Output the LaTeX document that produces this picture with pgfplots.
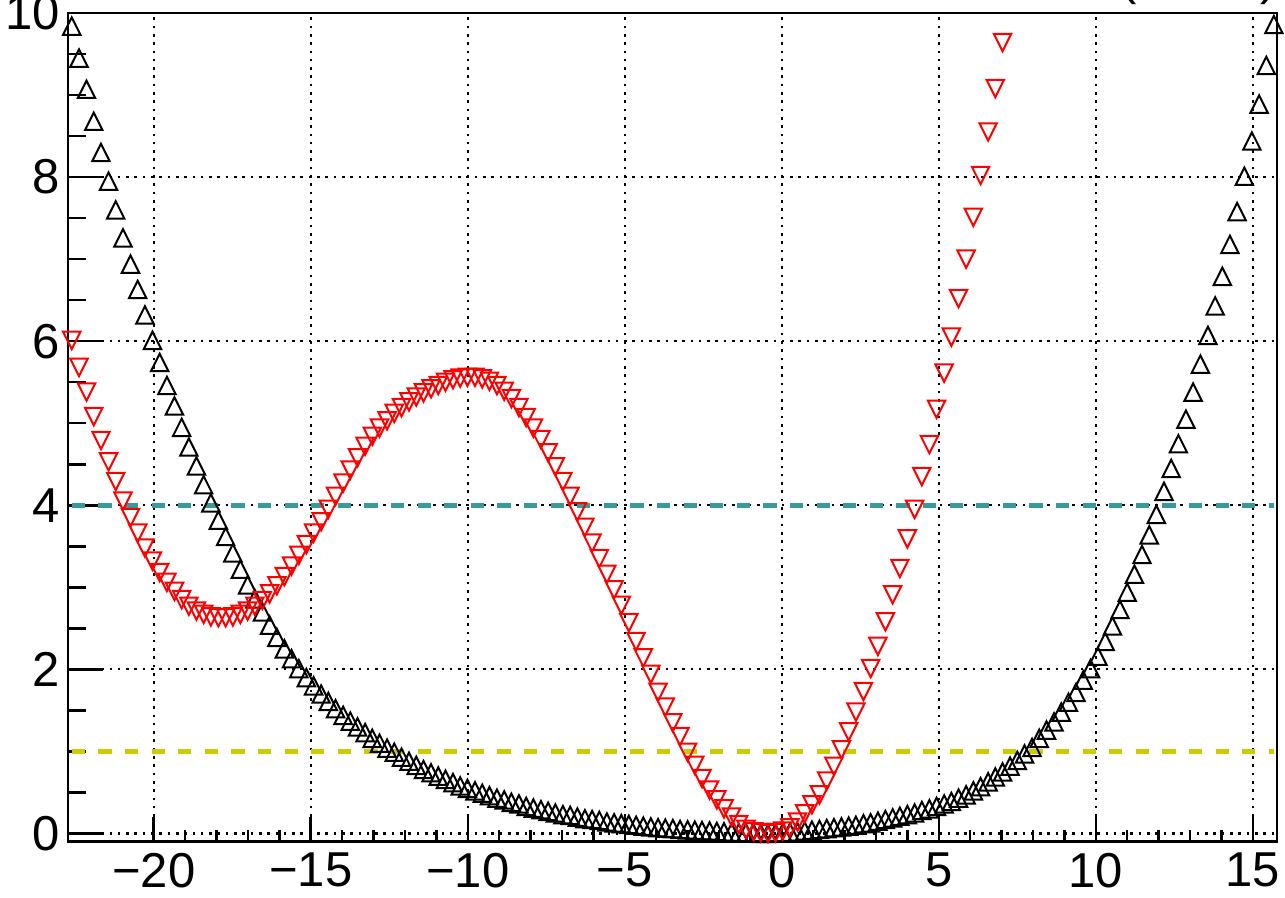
\documentclass[border=0pt]{standalone}
\usepackage{fontspec}
\setmainfont{Liberation Sans}
\usepackage{pgfplots}
\usepackage{pgfplotstable}
\pgfplotsset{compat=1.18}

\definecolor{rootteal}{RGB}{58,154,154}
\definecolor{rootyellow}{RGB}{204,204,0}

% ROOT-like open triangles (bounding box centred)
\pgfdeclareplotmark{rootup}{%
  \pgfpathmoveto{\pgfqpoint{-\pgfplotmarksize}{-\pgfplotmarksize}}%
  \pgfpathlineto{\pgfqpoint{\pgfplotmarksize}{-\pgfplotmarksize}}%
  \pgfpathlineto{\pgfqpoint{0pt}{\pgfplotmarksize}}%
  \pgfpathclose\pgfusepathqstroke}
\pgfdeclareplotmark{rootdown}{%
  \pgfpathmoveto{\pgfqpoint{-\pgfplotmarksize}{\pgfplotmarksize}}%
  \pgfpathlineto{\pgfqpoint{\pgfplotmarksize}{\pgfplotmarksize}}%
  \pgfpathlineto{\pgfqpoint{0pt}{-\pgfplotmarksize}}%
  \pgfpathclose\pgfusepathqstroke}

\pgfplotstableread{
x y
-22.61 9.84
-22.38 9.45
-22.14 9.07
-21.91 8.68
-21.68 8.30
-21.44 7.95
-21.21 7.60
-20.98 7.26
-20.74 6.94
-20.51 6.63
-20.28 6.32
-20.04 6.01
-19.81 5.74
-19.58 5.46
-19.34 5.21
-19.11 4.95
-18.88 4.71
-18.64 4.48
-18.41 4.25
-18.18 4.03
-17.94 3.82
-17.71 3.62
-17.48 3.42
-17.24 3.22
-17.01 3.03
-16.78 2.86
-16.54 2.70
-16.31 2.54
-16.08 2.39
-15.84 2.25
-15.61 2.13
-15.38 2.01
-15.14 1.90
-14.91 1.80
-14.67 1.70
-14.44 1.61
-14.21 1.52
-13.97 1.44
-13.74 1.37
-13.51 1.30
-13.27 1.23
-13.04 1.16
-12.81 1.10
-12.57 1.04
-12.34 0.99
-12.11 0.93
-11.87 0.88
-11.64 0.83
-11.41 0.78
-11.17 0.74
-10.94 0.70
-10.71 0.66
-10.47 0.62
-10.24 0.58
-10.01 0.55
-9.77 0.52
-9.54 0.49
-9.31 0.46
-9.07 0.43
-8.84 0.41
-8.61 0.38
-8.37 0.36
-8.14 0.33
-7.91 0.31
-7.67 0.29
-7.44 0.27
-7.21 0.25
-6.97 0.23
-6.74 0.22
-6.51 0.20
-6.27 0.18
-6.04 0.17
-5.81 0.16
-5.57 0.14
-5.34 0.13
-5.11 0.12
-4.87 0.11
-4.64 0.10
-4.41 0.09
-4.17 0.08
-3.94 0.07
-3.71 0.065
-3.47 0.06
-3.24 0.05
-3.00 0.045
-2.77 0.04
-2.54 0.035
-2.30 0.03
-2.07 0.025
-1.84 0.02
-1.60 0.015
-1.37 0.01
-1.14 0.01
-0.90 0.005
-0.67 0.0
-0.44 0.0
-0.20 0.005
0.03 0.01
0.26 0.015
0.50 0.02
0.73 0.03
0.96 0.04
1.20 0.05
1.43 0.06
1.66 0.07
1.90 0.08
2.13 0.09
2.36 0.10
2.60 0.12
2.83 0.13
3.06 0.15
3.30 0.17
3.53 0.19
3.76 0.21
4.00 0.23
4.23 0.25
4.46 0.28
4.70 0.30
4.93 0.33
5.17 0.36
5.40 0.39
5.63 0.43
5.87 0.47
6.10 0.52
6.33 0.57
6.57 0.63
6.80 0.69
7.03 0.75
7.27 0.82
7.50 0.89
7.73 0.97
7.97 1.05
8.20 1.16
8.43 1.26
8.67 1.36
8.90 1.48
9.13 1.60
9.37 1.72
9.60 1.87
9.83 2.01
10.07 2.16
10.30 2.34
10.53 2.53
10.77 2.73
11.00 2.94
11.23 3.16
11.47 3.40
11.70 3.64
11.93 3.89
12.17 4.17
12.40 4.45
12.63 4.75
12.87 5.05
13.10 5.38
13.33 5.72
13.57 6.07
13.80 6.43
14.03 6.79
14.27 7.18
14.50 7.58
14.73 8.01
14.97 8.44
15.20 8.89
15.43 9.36
15.67 9.86
}\blackscan

\pgfplotstableread{
x y
-22.61 6.01
-22.38 5.68
-22.14 5.38
-21.91 5.08
-21.68 4.79
-21.44 4.53
-21.21 4.29
-20.98 4.05
-20.74 3.85
-20.51 3.66
-20.28 3.48
-20.04 3.32
-19.81 3.18
-19.58 3.06
-19.34 2.95
-19.11 2.85
-18.88 2.77
-18.64 2.71
-18.41 2.67
-18.18 2.64
-17.94 2.63
-17.71 2.63
-17.48 2.64
-17.24 2.67
-17.01 2.71
-16.78 2.77
-16.54 2.84
-16.31 2.92
-16.08 3.02
-15.84 3.13
-15.61 3.26
-15.38 3.39
-15.14 3.52
-14.91 3.66
-14.67 3.80
-14.44 3.95
-14.21 4.11
-13.97 4.27
-13.74 4.43
-13.51 4.58
-13.27 4.72
-13.04 4.84
-12.81 4.94
-12.57 5.03
-12.34 5.12
-12.11 5.19
-11.87 5.26
-11.64 5.32
-11.41 5.37
-11.17 5.42
-10.94 5.46
-10.71 5.50
-10.47 5.53
-10.24 5.55
-10.01 5.56
-9.77 5.56
-9.54 5.54
-9.31 5.51
-9.07 5.46
-8.84 5.39
-8.61 5.30
-8.37 5.19
-8.14 5.07
-7.91 4.94
-7.67 4.80
-7.44 4.64
-7.21 4.47
-6.97 4.29
-6.74 4.11
-6.51 3.92
-6.27 3.73
-6.04 3.54
-5.81 3.35
-5.57 3.16
-5.34 2.97
-5.11 2.78
-4.87 2.57
-4.64 2.34
-4.41 2.14
-4.17 1.94
-3.94 1.72
-3.71 1.54
-3.47 1.35
-3.24 1.18
-3.00 0.99
-2.77 0.83
-2.54 0.67
-2.30 0.53
-2.07 0.41
-1.84 0.30
-1.60 0.20
-1.37 0.11
-1.14 0.05
-0.90 0.02
-0.67 0.01
-0.44 0.00
-0.20 0.01
0.03 0.03
0.26 0.07
0.50 0.14
0.73 0.24
0.96 0.35
1.20 0.47
1.43 0.64
1.66 0.82
1.90 1.02
2.13 1.24
2.36 1.48
2.60 1.73
2.83 2.01
3.06 2.28
3.30 2.58
3.53 2.91
3.76 3.23
4.00 3.59
4.23 3.95
4.46 4.35
4.70 4.74
4.93 5.17
5.17 5.61
5.40 6.05
5.63 6.52
5.87 7.00
6.10 7.51
6.33 8.02
6.57 8.55
6.80 9.08
7.03 9.64
}\redscan

\begin{document}
\begin{tikzpicture}
\useasboundingbox (0,0) rectangle (1285pt,897pt);
\begin{axis}[
    at={(68pt,55.3pt)}, anchor=south west,
    scale only axis,
    width=1209pt, height=828.7pt,
    xmin=-22.73, xmax=15.77,
    ymin=-0.1, ymax=10,
    xtick={-20,-15,-10,-5,0,5,10,15},
    xticklabels={−20,−15,−10,−5,0,5,10,15},
    ytick={0,2,4,6,8,10},
    yticklabels={0,2,4,6,8,10},
    minor x tick num=4,
    minor y tick num=3,
    tick pos=left,
    tick align=inside,
    xtick style={black, line width=2.5pt,
        /pgfplots/major tick length=25pt, /pgfplots/minor tick length=12pt},
    ytick style={black, line width=2.5pt,
        /pgfplots/major tick length=35pt, /pgfplots/minor tick length=17.7pt},
    grid=major,
    grid style={black, line width=2.1pt, dash pattern=on 2.6pt off 5.7pt},
    axis line style={line width=2.6pt},
    ticklabel style={font=\fontsize{49}{49}\selectfont, inner sep=0pt},
    xticklabel style={anchor=north, yshift=-11pt},
    yticklabel style={anchor=east, xshift=-8pt},
    clip=false,
]
% 1 and 2 sigma lines
\addplot[rootyellow, line width=5.5pt, dash pattern=on 13.3pt off 13.3pt]
    coordinates {(-22.61,1) (15.66,1)};
\addplot[rootteal, line width=5.5pt, dash pattern=on 13.3pt off 13.3pt]
    coordinates {(-22.61,4) (15.66,4)};
% scans
\addplot[only marks, mark=rootup, mark size=8.7pt,
    mark options={black, line width=2pt}] table[x=x, y=y] {\blackscan};
\addplot[only marks, mark=rootdown, mark size=8.7pt,
    mark options={red, line width=2pt}] table[x=x, y=y] {\redscan};
\end{axis}
\node[anchor=base west, inner sep=0pt, font=\fontsize{49}{49}\selectfont]
    at (1120pt,902pt) {(\hspace{124pt})};
\end{tikzpicture}
\end{document}
